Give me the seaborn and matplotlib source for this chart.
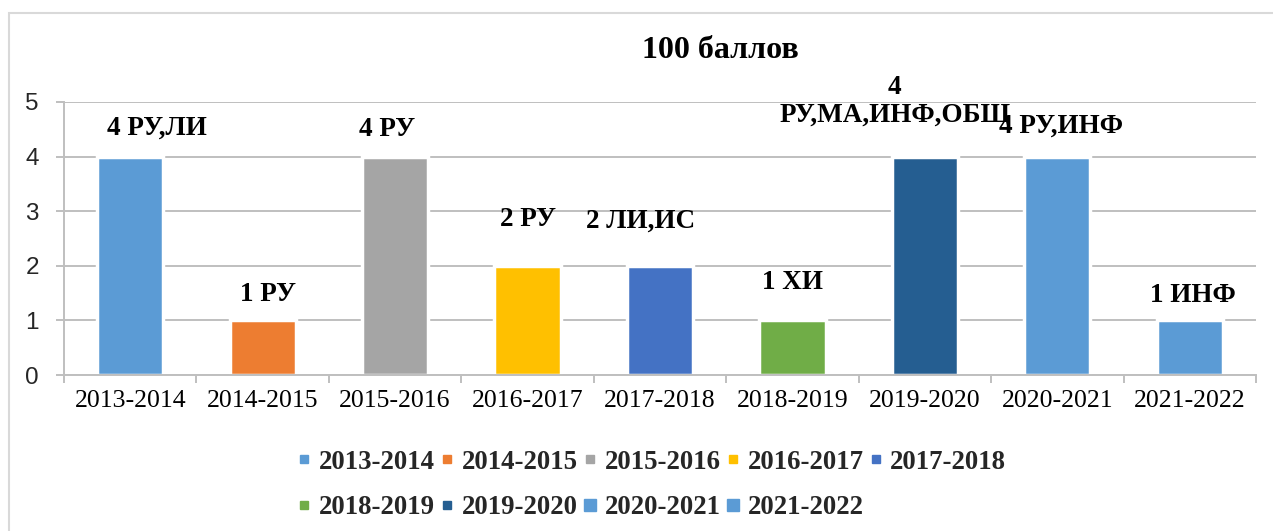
import matplotlib
matplotlib.use("Agg")
import matplotlib.pyplot as plt
from matplotlib.lines import Line2D
from matplotlib.patches import Rectangle
from matplotlib.ticker import FixedLocator
import seaborn as sns
import pandas as pd

# Academic years and number of 100-point results per year
seasons = ["2013-2014", "2014-2015", "2015-2016", "2016-2017", "2017-2018",
           "2018-2019", "2019-2020", "2020-2021", "2021-2022"]
counts = [4, 1, 4, 2, 2, 1, 4, 4, 1]
subjects = ["РУ,ЛИ", "РУ", "РУ", "РУ", "ЛИ,ИС", "ХИ",
            "\nРУ,МА,ИНФ,ОБЩ", "РУ,ИНФ", "ИНФ"]
colors = ["#5B9BD5", "#ED7D31", "#A5A5A5", "#FFC000", "#4472C4",
          "#70AD47", "#255E91", "#5B9BD5", "#5B9BD5"]

# label placement (pixel offsets from the bar top) and legend marker sizes
label_dx = [27, 5, -8, 0, -19, 0, -30, 4, 3]
label_dy = [28, 26, 27, 46, 45, 38, 55, 30, 25]
legend_marker = [5.5, 5.5, 5.5, 5.5, 5.5, 5.5, 5.5, 8, 8]

df = pd.DataFrame({"season": seasons, "count": counts})

sns.set_theme(style="white")
plt.rcParams["font.family"] = ["Liberation Serif", "DejaVu Serif"]

fig = plt.figure(figsize=(12.73, 5.31), dpi=100)
W, H = 1273, 531
ax = fig.add_axes([64 / W, 1 - 375 / H, (1256 - 64) / W, (375 - 102) / H])

grid_c = "#BFBFBF"
ax.set_axisbelow(True)
ax.yaxis.grid(True, color=grid_c, linewidth=1.4)

sns.barplot(data=df, x="season", y="count", hue="season", palette=colors,
            dodge=False, legend=False, width=0.5, edgecolor="white",
            linewidth=2.5, ax=ax, saturation=1)

ax.set_xlim(-0.5, len(seasons) - 0.5)
ax.set_ylim(0, 5)
ax.set_yticks(range(0, 6))
ax.set_xlabel("")
ax.set_ylabel("")

for side in ("top", "right"):
    ax.spines[side].set_visible(False)
for side in ("left", "bottom"):
    ax.spines[side].set_color(grid_c)
    ax.spines[side].set_linewidth(1.4)

ax.xaxis.set_minor_locator(FixedLocator([i - 0.5 for i in range(len(seasons) + 1)]))
ax.tick_params(axis="x", which="major", length=0, pad=11, labelsize=18.5,
               labelcolor="black")
ax.tick_params(axis="x", which="minor", length=5.5, width=1.4, color=grid_c,
               direction="out", bottom=True)
ax.tick_params(axis="y", which="major", length=6, width=1.4, color=grid_c,
               direction="out", left=True, pad=12, labelsize=17.5)
for lab in ax.get_yticklabels():
    lab.set_fontfamily(["Liberation Sans", "DejaVu Sans"])

# value + subject labels above the bars
for i, (c, s) in enumerate(zip(counts, subjects)):
    text = f"{c}{s}" if s.startswith("\n") else f"{c} {s}"
    ax.annotate(text, xy=(i, c), xytext=(label_dx[i], label_dy[i]),
                textcoords="offset pixels", ha="center", va="center",
                fontsize=19.5, fontweight="bold", color="black",
                linespacing=1.17)

fig.text(720 / W, 1 - 51 / H, "100 баллов", ha="center", va="center",
         fontsize=23, fontweight="bold", color="black")

# legend: two rows, filled row by row
handles = [Line2D([], [], marker="s", linestyle="none", markersize=ms,
                  markerfacecolor=col, markeredgecolor=col)
           for col, ms in zip(colors, legend_marker)]
ncol = 5
order = []
rows = [list(range(0, ncol)), list(range(ncol, len(seasons)))]
for j in range(ncol):
    for r in rows:
        if j < len(r):
            order.append(r[j])
leg = fig.legend([handles[k] for k in order], [seasons[k] for k in order],
                 ncol=ncol, loc="center", bbox_to_anchor=(652 / W, 1 - 485 / H),
                 frameon=False, prop={"weight": "bold", "size": 19.3},
                 handlelength=0.5, handletextpad=0.3, columnspacing=0.2,
                 labelspacing=0.77, borderaxespad=0)

# light outer frame of the chart area
fig.patches.append(Rectangle((9 / W, -0.1), 1.2, 1 - 13 / H + 0.1,
                             transform=fig.transFigure, fill=False,
                             edgecolor="#D9D9D9", linewidth=1.5))

fig.savefig("out.png", dpi=100)
